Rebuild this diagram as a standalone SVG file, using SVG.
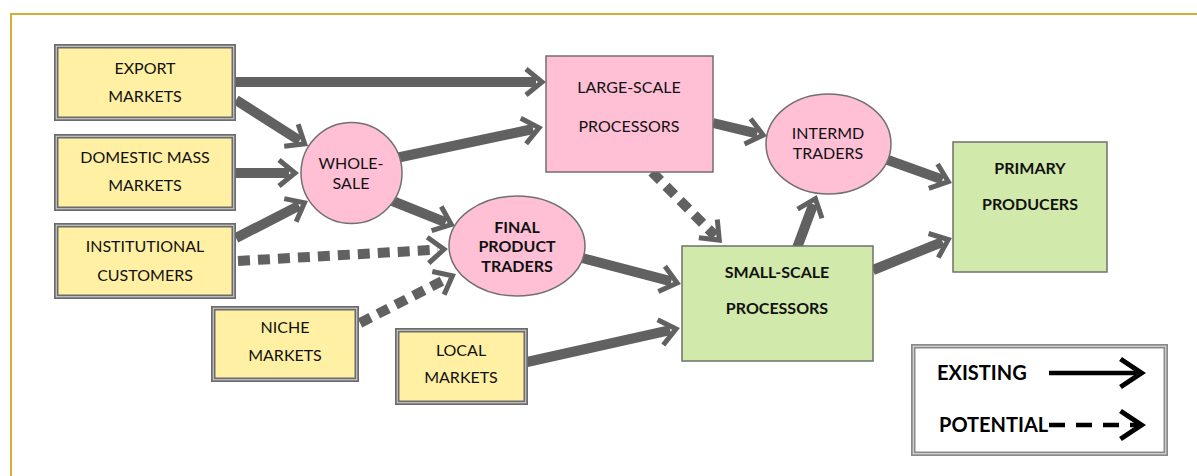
<svg xmlns="http://www.w3.org/2000/svg" width="1197" height="476" viewBox="0 0 1197 476">
  <style>
    .t { font-family: Lato, "Liberation Sans", sans-serif; font-size: 16px; fill: #111; text-anchor: middle; }
    .b { font-weight: bold; }
    .yb { fill: #fff0a3; stroke: #6b6b6b; stroke-width: 4.5; }
    .yi { fill: none; stroke: #d6d6d6; stroke-width: 1; }
    .pk { fill: #ffc0d6; stroke: #707070; stroke-width: 1.5; }
    .gr { fill: #d1e9aa; stroke: #707070; stroke-width: 1.5; }
    .c { fill: none; stroke: #616161; stroke-width: 10; marker-end: url(#ah); }
    .d { stroke-dasharray: 12 8; }
    .lg { fill: #fff; stroke: #8a8a8a; stroke-width: 4.5; }
    .lgi { fill: none; stroke: #e4e4e4; stroke-width: 1; }
    .lt { font-family: Lato, "Liberation Sans", sans-serif; font-size: 20px; font-weight: bold; fill: #000; }
  </style>
  <defs>
    <marker id="ah" markerUnits="userSpaceOnUse" viewBox="-16 -18 32 36" markerWidth="32" markerHeight="36" refX="0" refY="0" orient="auto" overflow="visible">
      <path d="M-10,-13 L6,0 L-10,13" fill="none" stroke="#616161" stroke-width="5" stroke-linejoin="miter"/>
    </marker>
    <marker id="ak" markerUnits="userSpaceOnUse" viewBox="-24 -18 36 36" markerWidth="36" markerHeight="36" refX="0" refY="0" orient="auto" overflow="visible">
      <path d="M-18,-14 L3,0 L-18,14" fill="none" stroke="#000" stroke-width="5" stroke-linejoin="miter"/>
    </marker>
  </defs>

  <rect width="1197" height="476" fill="#fff"/>
  <!-- outer frame -->
  <rect x="11" y="14" width="1200" height="480" fill="none" stroke="#d4ad3a" stroke-width="2"/>

  <g id="connectors">
    <line class="c" x1="236" y1="82" x2="536" y2="82"/>
    <line class="c" x1="236" y1="100" x2="299.6" y2="140.6"/>
    <line class="c" x1="236" y1="173" x2="289" y2="173"/>
    <line class="c" x1="236" y1="238" x2="299.1" y2="205.6"/>
    <line class="c d" x1="238" y1="261" x2="438" y2="249.6"/>
    <line class="c d" x1="360" y1="323" x2="447.1" y2="278.5"/>
    <line class="c" x1="390" y1="200" x2="445.7" y2="222.3"/>
    <line class="c" x1="396" y1="158" x2="533.2" y2="129"/>
    <line class="c" x1="713" y1="123" x2="757.3" y2="133.7"/>
    <line class="c d" x1="652" y1="172" x2="715.1" y2="235.8"/>
    <line class="c" x1="582" y1="258" x2="671.3" y2="281.4"/>
    <line class="c" x1="527" y1="362" x2="670.2" y2="330.2"/>
    <line class="c" x1="797" y1="248" x2="813.3" y2="204.3"/>
    <line class="c" x1="885" y1="159" x2="942.6" y2="179.6"/>
    <line class="c" x1="873" y1="270" x2="942.7" y2="241.8"/>
  </g>

  <g id="export-markets">
    <rect class="yb" x="56.25" y="46.25" width="177.5" height="72.5"/>
    <rect class="yi" x="56.25" y="46.25" width="177.5" height="72.5"/>
    <text class="t" x="145" y="74">EXPORT</text>
    <text class="t" x="145" y="102">MARKETS</text>
  </g>
  <g id="domestic-mass-markets">
    <rect class="yb" x="56.25" y="136.25" width="177.5" height="72.5"/>
    <rect class="yi" x="56.25" y="136.25" width="177.5" height="72.5"/>
    <text class="t" x="145" y="163">DOMESTIC MASS</text>
    <text class="t" x="145" y="191">MARKETS</text>
  </g>
  <g id="institutional-customers">
    <rect class="yb" x="56.25" y="225.25" width="177.5" height="71.5"/>
    <rect class="yi" x="56.25" y="225.25" width="177.5" height="71.5"/>
    <text class="t" x="145" y="252">INSTITUTIONAL</text>
    <text class="t" x="145" y="281">CUSTOMERS</text>
  </g>
  <g id="niche-markets">
    <rect class="yb" x="213.25" y="308.25" width="143.5" height="71.5"/>
    <rect class="yi" x="213.25" y="308.25" width="143.5" height="71.5"/>
    <text class="t" x="285" y="333">NICHE</text>
    <text class="t" x="285" y="361">MARKETS</text>
  </g>
  <g id="local-markets">
    <rect class="yb" x="397.25" y="330.25" width="128.5" height="72.5"/>
    <rect class="yi" x="397.25" y="330.25" width="128.5" height="72.5"/>
    <text class="t" x="461" y="356">LOCAL</text>
    <text class="t" x="461" y="383">MARKETS</text>
  </g>

  <g id="wholesale">
    <circle class="pk" cx="351.5" cy="173" r="50.5"/>
    <text class="t" x="351" y="169">WHOLE-</text>
    <text class="t" x="351" y="189">SALE</text>
  </g>
  <g id="final-product-traders">
    <ellipse class="pk" cx="517" cy="246" rx="68" ry="50"/>
    <text class="t b" x="517" y="233">FINAL</text>
    <text class="t b" x="517" y="252">PRODUCT</text>
    <text class="t b" x="517" y="272">TRADERS</text>
  </g>
  <g id="large-scale-processors">
    <rect class="pk" x="546" y="56" width="167" height="116"/>
    <text class="t" x="629" y="93">LARGE-SCALE</text>
    <text class="t" x="629" y="132">PROCESSORS</text>
  </g>
  <g id="intermd-traders">
    <ellipse class="pk" cx="828.5" cy="144" rx="62.5" ry="50"/>
    <text class="t" x="828" y="139">INTERMD</text>
    <text class="t" x="828" y="159">TRADERS</text>
  </g>
  <g id="small-scale-processors">
    <rect class="gr" x="682" y="246" width="191" height="115"/>
    <text class="t b" x="777" y="278">SMALL-SCALE</text>
    <text class="t b" x="777" y="314">PROCESSORS</text>
  </g>
  <g id="primary-producers">
    <rect class="gr" x="953" y="142" width="154" height="130"/>
    <text class="t b" x="1030" y="174">PRIMARY</text>
    <text class="t b" x="1030" y="210">PRODUCERS</text>
  </g>

  <g id="legend">
    <rect class="lg" x="913.25" y="346.25" width="252.5" height="107.5"/>
    <rect class="lgi" x="913.25" y="346.25" width="252.5" height="107.5"/>
    <text class="lt" x="937" y="380">EXISTING</text>
    <text class="lt" x="939" y="432">POTENTIAL</text>
    <line x1="1049" y1="373" x2="1138.5" y2="373" stroke="#000" stroke-width="4.5" marker-end="url(#ak)"/>
    <line x1="1049" y1="425" x2="1138.5" y2="425" stroke="#000" stroke-width="4.5" stroke-dasharray="16 11" marker-end="url(#ak)"/>
  </g>
</svg>
